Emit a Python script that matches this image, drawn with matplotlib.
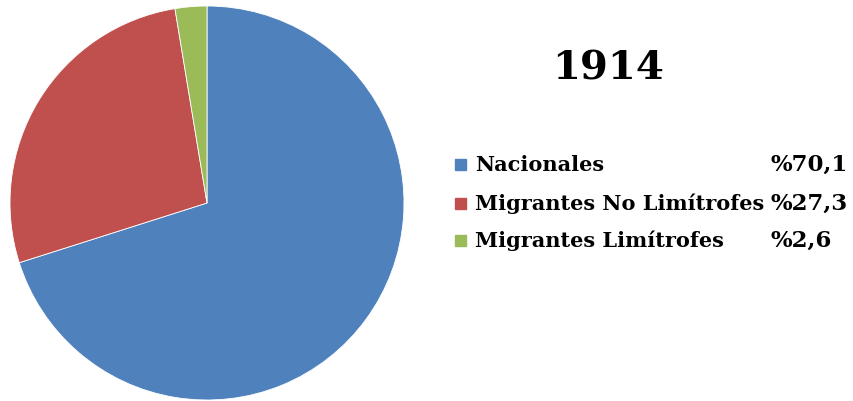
import matplotlib.pyplot as plt
from matplotlib.patches import Rectangle

# datos
labels = ['Nacionales', 'Migrantes No Limítrofes', 'Migrantes Limítrofes']
values = [70.1, 27.3, 2.6]
pct_labels = ['%70,1', '%27,3', '%2,6']
colors = ['#4F81BD', '#C0504D', '#9BBB59']
year = '1914'

plt.rcParams['font.family'] = ['DejaVu Serif']

fig = plt.figure(figsize=(8.54, 4.01), dpi=100)
ax = fig.add_axes([10 / 854, 1 / 401, 394 / 854, 394 / 401])
ax.pie(values, colors=colors, startangle=90, counterclock=False, radius=1,
       wedgeprops=dict(edgecolor='white', linewidth=0.6))
ax.set_xlim(-1, 1)
ax.set_ylim(-1, 1)
ax.set_aspect('equal')

fig.text(608 / 854, 1 - 68 / 401, year, ha='center', va='center',
         fontsize=29, fontweight='bold')

rows_y = [165, 204, 241]
for lab, pct, col, y in zip(labels, pct_labels, colors, rows_y):
    yf = 1 - y / 401
    fig.patches.append(Rectangle((455 / 854, yf - 5 / 401), 11 / 854, 11 / 401,
                                 transform=fig.transFigure, color=col))
    fig.text(475 / 854, yf, lab, ha='left', va='center',
             fontsize=15, fontweight='bold')
    fig.text(771 / 854, yf, pct, ha='left', va='center',
             fontsize=16.5, fontweight='bold')

plt.savefig('out.png', dpi=100)
